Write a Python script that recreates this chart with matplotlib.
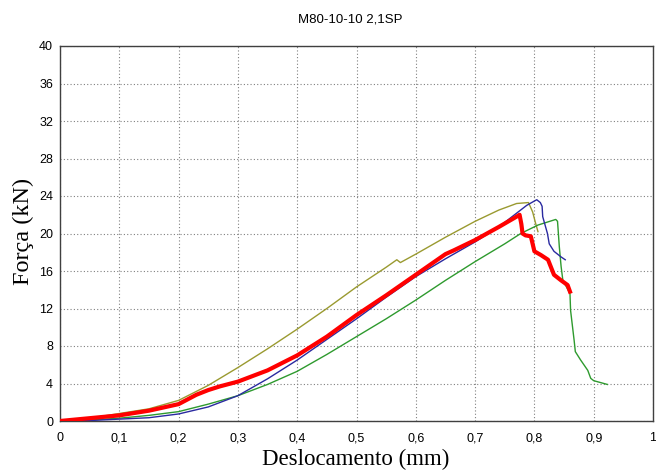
import matplotlib
matplotlib.use("Agg")
import matplotlib.pyplot as plt

title = "M80-10-10 2,1SP"
xlabel = "Deslocamento (mm)"
ylabel = "Força (kN)"
xticks = [0, 0.1, 0.2, 0.3, 0.4, 0.5, 0.6, 0.7, 0.8, 0.9, 1.0]
xticklabels = ["0", "0,1", "0,2", "0,3", "0,4", "0,5", "0,6", "0,7", "0,8", "0,9", "1"]
yticks = [0, 4, 8, 12, 16, 20, 24, 28, 32, 36, 40]

olive_x = [0, 0.05, 0.1, 0.15, 0.2, 0.25, 0.3, 0.35, 0.4, 0.45, 0.5, 0.55, 0.568, 0.574,
           0.6, 0.65, 0.7, 0.74, 0.77, 0.79, 0.797, 0.802, 0.806]
olive_y = [0, 0.3, 0.8, 1.3, 2.2, 3.8, 5.7, 7.7, 9.8, 12.0, 14.3, 16.4, 17.2, 16.9,
           17.8, 19.6, 21.3, 22.5, 23.2, 23.3, 22.3, 21.1, 20.2]

blue_x = [0, 0.05, 0.1, 0.15, 0.2, 0.25, 0.3, 0.35, 0.4, 0.45, 0.5, 0.55, 0.6, 0.65, 0.7,
          0.74, 0.787, 0.801, 0.804, 0.81, 0.813, 0.814, 0.822, 0.825, 0.833, 0.845, 0.852]
blue_y = [0, 0.05, 0.2, 0.35, 0.75, 1.5, 2.7, 4.5, 6.5, 8.7, 10.9, 13.2, 15.4, 17.3, 19.1,
          20.7, 23.0, 23.5, 23.6, 23.3, 22.9, 21.8, 20.0, 18.9, 18.1, 17.5, 17.2]

green_x = [0, 0.05, 0.1, 0.15, 0.2, 0.25, 0.3, 0.35, 0.4, 0.45, 0.5, 0.55, 0.6, 0.65, 0.7,
           0.75, 0.777, 0.806, 0.836, 0.839, 0.842, 0.845, 0.848, 0.86, 0.861, 0.867, 0.869,
           0.878, 0.89, 0.895, 0.9, 0.923]
green_y = [0, 0.1, 0.3, 0.6, 1.0, 1.8, 2.7, 3.9, 5.3, 7.1, 9.0, 10.9, 12.9, 15.0, 17.0,
           18.9, 20.0, 20.9, 21.5, 21.3, 18.6, 16.5, 15.0, 13.6, 11.8, 8.6, 7.4,
           6.5, 5.4, 4.55, 4.3, 3.9]

red_x = [0, 0.05, 0.1, 0.15, 0.2, 0.23, 0.25, 0.27, 0.3, 0.35, 0.4, 0.45, 0.5, 0.55, 0.6,
         0.65, 0.664, 0.7, 0.74, 0.77, 0.775, 0.778, 0.78, 0.785, 0.794, 0.8, 0.811, 0.823,
         0.833, 0.845, 0.856, 0.86]
red_y = [0, 0.3, 0.6, 1.1, 1.8, 2.8, 3.3, 3.7, 4.2, 5.4, 7.0, 9.0, 11.3, 13.4, 15.6,
         17.8, 18.2, 19.3, 20.7, 21.8, 22.0, 21.0, 20.0, 19.8, 19.7, 18.1, 17.7, 17.2,
         15.6, 15.0, 14.5, 13.8]

W, H = 656, 472
fig = plt.figure(figsize=(W/100, H/100), dpi=100)
x0, x1, y0, y1 = 60, 653, 46, 421
ax = fig.add_axes([x0/W, 1-y1/H, (x1-x0)/W, (y1-y0)/H])

ax.plot(olive_x, olive_y, color="#9a9a30", lw=1.0, zorder=3)
ax.plot(green_x, green_y, color="#2e9a2e", lw=1.0, zorder=3)
ax.plot(blue_x, blue_y, color="#2a2aa0", lw=1.0, zorder=3)
ax.plot(red_x, red_y, color="#ff0000", lw=3.0, zorder=4)

ax.set_xlim(0, 1)
ax.set_ylim(0, 40)
ax.set_xticks(xticks)
ax.set_xticklabels(xticklabels)
ax.set_yticks(yticks)
ax.grid(True, linestyle=(0, (1, 2)), color="#808080", lw=0.8)
ax.tick_params(axis="x", length=0, labelsize=9, pad=8)
ax.tick_params(axis="y", length=0, labelsize=9, pad=5)
for lab in ax.get_xticklabels() + ax.get_yticklabels():
    lab.set_family("Liberation Sans")
for s in ax.spines.values():
    s.set_color("#404040")
    s.set_linewidth(1.0)

fig.text(350/W, 1-19/H, title, ha="center", va="center", fontsize=9.5, family="Liberation Sans")
ax.set_xlabel(xlabel, fontsize=16.5, family="Liberation Serif")
ax.set_ylabel(ylabel, fontsize=17.5, family="Liberation Serif")
# label positions in axes coordinates
ax.xaxis.set_label_coords((356 - x0)/(x1 - x0), -(459 - y1)/(y1 - y0))
ax.yaxis.set_label_coords(-(x0 - 23)/(x1 - x0), (y1 - 231)/(y1 - y0))
ax.xaxis.label.set_va("center")
ax.yaxis.label.set_va("center")

fig.savefig("out.png", dpi=100)
